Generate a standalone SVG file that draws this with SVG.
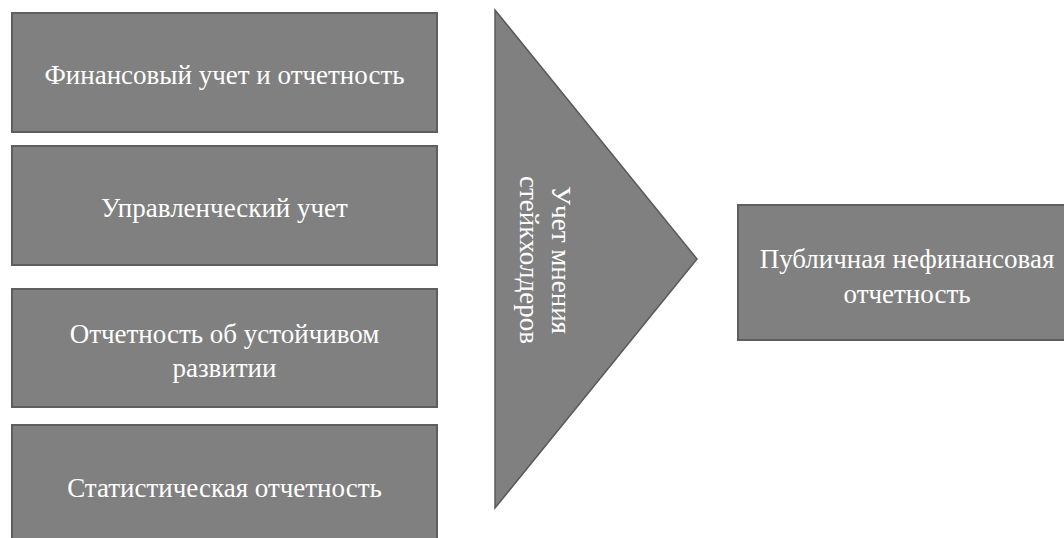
<svg xmlns="http://www.w3.org/2000/svg" width="1064" height="538" viewBox="0 0 1064 538">
<style>
.box{fill:#808080;stroke:#5e5e5e;stroke-width:2}
.tri{fill:#808080;stroke:#5a5a5a;stroke-width:1.5}
.t{font-family:"Liberation Serif","Times New Roman",serif;font-size:27px;fill:#ffffff;text-anchor:middle}
</style>
<rect width="1064" height="538" fill="#ffffff"/>
<g id="node-fin">
<rect class="box" x="12" y="13" width="425" height="119"/>
<text class="t" x="224.5" y="84">Финансовый учет и отчетность</text>
</g>
<g id="node-mgmt">
<rect class="box" x="12" y="146" width="425" height="119"/>
<text class="t" x="224.5" y="217">Управленческий учет</text>
</g>
<g id="node-sust">
<rect class="box" x="12" y="289" width="425" height="118"/>
<text class="t" x="224.5" y="343">Отчетность об устойчивом</text>
<text class="t" x="224.5" y="377">развитии</text>
</g>
<g id="node-stat">
<rect class="box" x="12" y="425" width="425" height="125"/>
<text class="t" x="224.5" y="497">Статистическая отчетность</text>
</g>
<g id="node-stake">
<polygon class="tri" points="495,10 697,259 495,508"/>
<text class="t" transform="translate(543,260) rotate(90)"><tspan x="0" y="-9">Учет мнения</tspan><tspan x="0" y="23">стейкхолдеров</tspan></text>
</g>
<g id="node-public">
<rect class="box" x="738" y="205" width="340" height="135"/>
<text class="t" x="907" y="268">Публичная нефинансовая</text>
<text class="t" x="907" y="303">отчетность</text>
</g>
<g id="connectors"></g>
</svg>
